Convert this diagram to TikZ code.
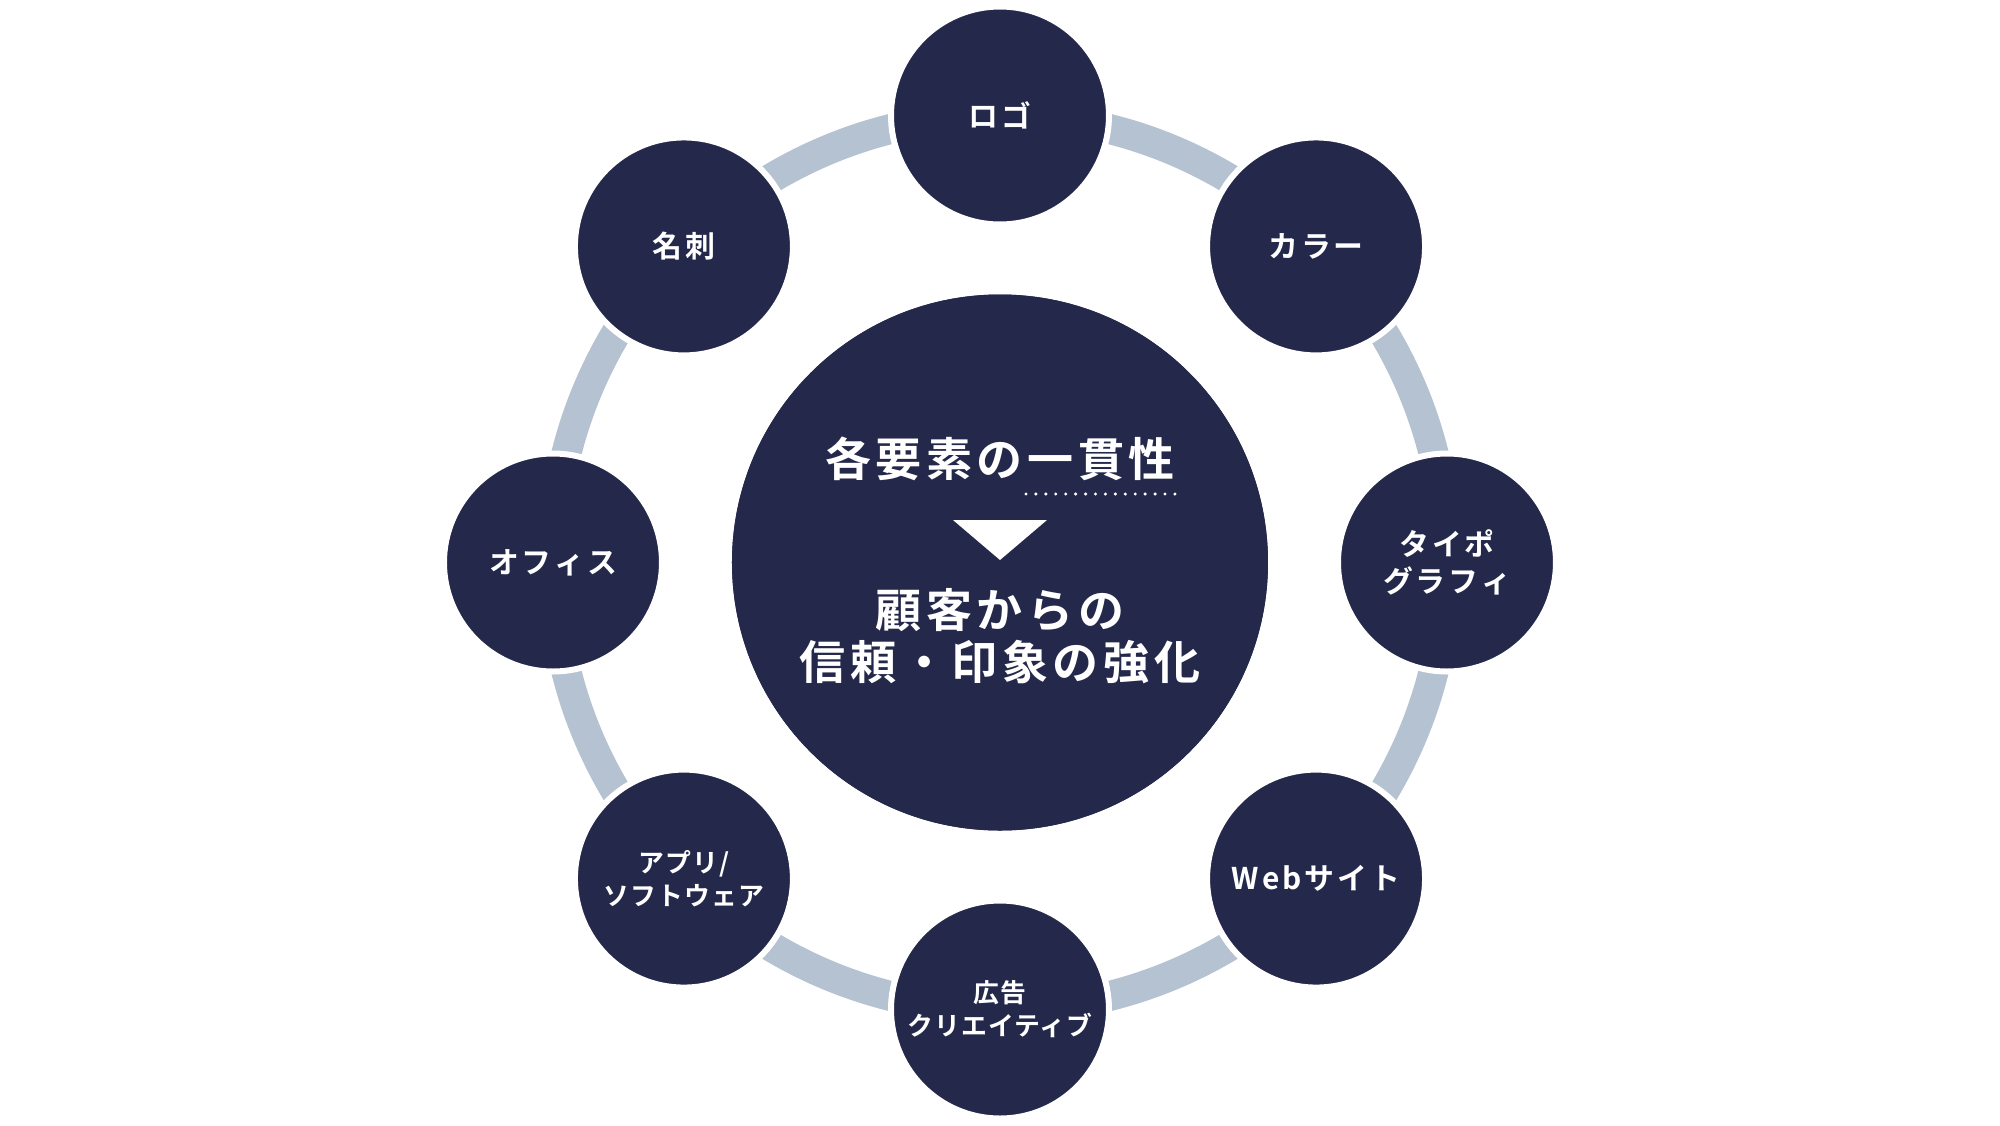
\documentclass[tikz,border=0pt]{standalone}
\usepackage{fontspec}
\usepackage{xcolor}
\usetikzlibrary{positioning,calc}
\newfontfamily\jpfont{Noto Sans CJK JP}[BoldFont=* Bold]
\newfontfamily\jpwide{Noto Sans CJK JP}[BoldFont=* Bold,LetterSpace=10]
\newfontfamily\jpnarrow{Noto Sans CJK JP}[BoldFont=* Bold,LetterSpace=4]
\definecolor{navy}{HTML}{24284A}
\definecolor{ringblue}{HTML}{B4C2D1}

\begin{document}
\begin{tikzpicture}[
  hub/.style={circle, fill=navy, minimum size=5.36cm, inner sep=0pt},
  sat/.style={circle, fill=navy, draw=white, line width=0.6mm, minimum size=2.18cm, inner sep=0pt,
    text=white, align=center, font=\jpwide\bfseries\fontsize{8.5}{10.5}\selectfont},
  satsmall/.style={sat, font=\jpnarrow\bfseries\fontsize{7.35}{9.4}\selectfont},
  bigtxt/.style={text=white, align=center, font=\jpwide\bfseries\fontsize{13.1}{14.8}\selectfont},
  ring/.style={draw=ringblue, line width=0.3cm}
]
  \useasboundingbox (-10,-5.625) rectangle (10,5.625);
  % ring behind everything
  \node[hub] (core) at (0,0) {};
  \draw[ring] (core.center) circle (4.47);
  \node[hub] at (core.center) {};
  % elements around the ring
  \foreach \ang/\nm/\txt in {90/logo/{ロゴ}, 45/color/{カラー}, 0/typo/{タイポ\\グラフィ},
      -45/web/{Webサイト}, 180/office/{オフィス}, 135/card/{名刺}}
    \node[sat] (\nm) at (\ang:4.47) {\txt};
  \node[satsmall] (ad) at (-90:4.47) {広告\\クリエイティブ};
  \node[satsmall] (app) at (-135:4.47) {アプリ/\\ソフトウェア};
  % center message
  \node[bigtxt] (goal) at (0,1.035) {各要素の一貫性};
  \foreach \i in {0,...,15}
    \fill[white] (0.26+0.0993*\i,0.685) circle (0.017);
  \fill[white] (-0.47,0.425) -- (0.47,0.425) -- (0,0.025) -- cycle;
  \node[bigtxt] (result) at (0,-0.735) {顧客からの\\信頼・印象の強化};
\end{tikzpicture}
\end{document}
